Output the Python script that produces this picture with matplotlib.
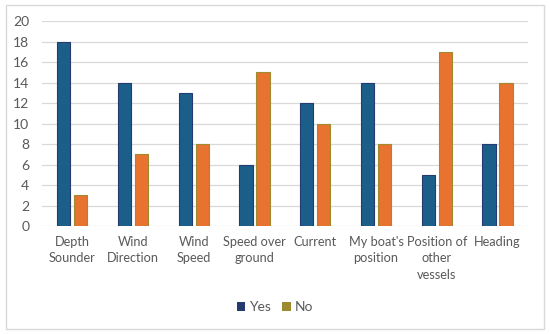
import matplotlib.pyplot as plt
from matplotlib.patches import Rectangle
import numpy as np

categories = ["Depth\nSounder", "Wind\nDirection", "Wind\nSpeed", "Speed over\nground",
              "Current", "My boat's\nposition", "Position of\nother\nvessels", "Heading"]
yes_vals = [18, 14, 13, 6, 12, 14, 5, 8]
no_vals = [3, 7, 8, 15, 10, 8, 17, 14]

plt.rcParams['font.family'] = ['Lato', 'DejaVu Sans']

fig = plt.figure(figsize=(5.5, 3.34), dpi=100)
ax = fig.add_axes([0.076, 0.323, 0.884, 0.614])

x = np.arange(len(categories))
w = 0.22
ax.bar(x - 0.14, yes_vals, w, color='#1b5e8a', edgecolor='#253a6e', linewidth=0.8, label='Yes', zorder=3)
ax.bar(x + 0.14, no_vals, w, color='#e8722f', edgecolor='#9e8b2f', linewidth=0.8, label='No', zorder=3)

ax.set_xlim(-0.5, 7.5)
ax.set_ylim(0, 20)
ax.set_yticks(range(0, 21, 2))
ax.set_xticks(x)
ax.set_xticklabels(categories, linespacing=1.45)
ax.tick_params(length=0, colors='#595959', labelsize=10)
ax.tick_params(axis='x', pad=7, labelsize=9.2)
ax.tick_params(axis='y', pad=9)
ax.grid(axis='y', color='#d9d9d9', linewidth=0.9, zorder=0)
for s in ax.spines.values():
    s.set_visible(False)

leg = fig.legend(loc='center', bbox_to_anchor=(0.5, 0.08), ncol=2, frameon=False,
                 fontsize=10, handlelength=0.6, handleheight=0.6, handletextpad=0.3,
                 columnspacing=0.8)
for h in leg.legend_handles:
    h.set_edgecolor('none')
leg.legend_handles[0].set_facecolor('#253a6e')
leg.legend_handles[1].set_facecolor('#9e8b2f')
for t in leg.get_texts():
    t.set_color('#595959')

fig.patches.append(Rectangle((6 / 550, 5 / 334), 538 / 550, 324 / 334, transform=fig.transFigure,
                             fill=False, edgecolor='#d9d9d9', linewidth=1))

fig.savefig('out.png', dpi=100)
